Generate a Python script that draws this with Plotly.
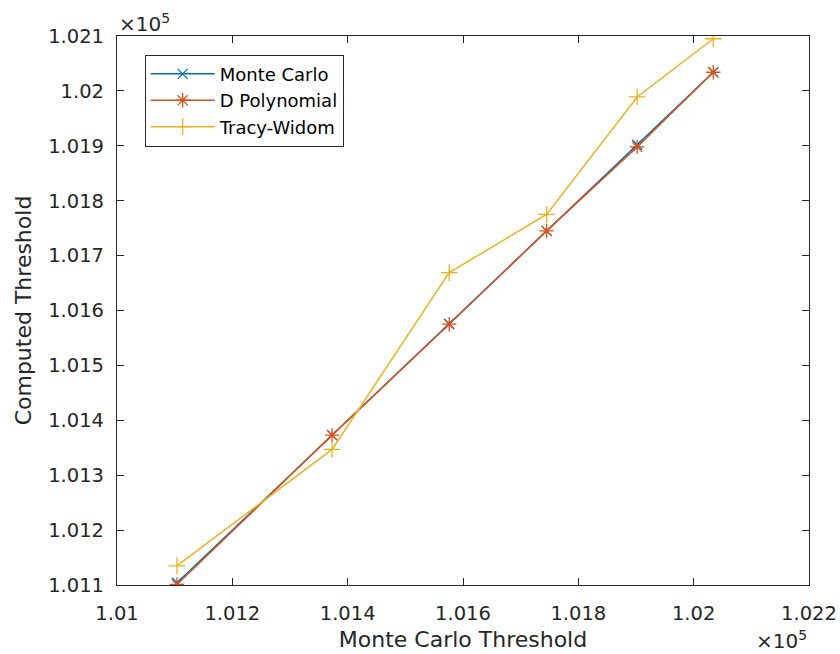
import plotly.graph_objects as go

# Thresholds (raw units); plotted in units of 1e5 with a shared exponent label
SCALE = 1e5
mc_threshold = [101104, 101373, 101576, 101745, 101902, 102034]
monte_carlo = [101104, 101373, 101576, 101745, 101902, 102034]
d_polynomial = [101101, 101373, 101575, 101745, 101898, 102034]
tracy_widom = [101135, 101347, 101669, 101775, 101989, 102095]

x_ticks = [1.010, 1.012, 1.014, 1.016, 1.018, 1.020, 1.022]
x_tick_text = ["1.01", "1.012", "1.014", "1.016", "1.018", "1.02", "1.022"]
y_ticks = [1.011, 1.012, 1.013, 1.014, 1.015, 1.016, 1.017, 1.018, 1.019, 1.020, 1.021]
y_tick_text = ["1.011", "1.012", "1.013", "1.014", "1.015", "1.016", "1.017",
               "1.018", "1.019", "1.02", "1.021"]

FONT = "DejaVu Sans"
INK = "#262626"

x_scaled = [v / SCALE for v in mc_threshold]

series = [
    ("Monte Carlo", monte_carlo, "#0072BD", "x-thin-open", 10),
    ("D Polynomial", d_polynomial, "#D95319", "asterisk-open", 12),
    ("Tracy-Widom", tracy_widom, "#EDB120", "cross-thin-open", 12),
]

fig = go.Figure()
for name, vals, color, symbol, msize in series:
    fig.add_trace(go.Scatter(
        x=x_scaled,
        y=[v / SCALE for v in vals],
        mode="lines+markers",
        name=name,
        line=dict(color=color, width=1.5),
        marker=dict(symbol=symbol, size=msize, color=color,
                    line=dict(color=color, width=1.3)),
    ))

axis_common = dict(
    showline=True, linecolor=INK, linewidth=1.2,
    mirror="ticks", ticks="inside", ticklen=7, tickwidth=1.2, tickcolor=INK,
    showgrid=False, zeroline=False,
    tickfont=dict(family=FONT, size=19.5, color=INK),
)

fig.update_xaxes(
    range=[1.010, 1.022], tickvals=x_ticks, ticktext=x_tick_text,
    ticklabelstandoff=10,
    title=dict(text="Monte Carlo Threshold", font=dict(family=FONT, size=22, color=INK),
               standoff=8),
    automargin=False,
    **axis_common,
)
fig.update_yaxes(
    range=[1.011, 1.021], tickvals=y_ticks, ticktext=y_tick_text,
    ticklabelstandoff=8,
    title=dict(text="Computed Threshold", font=dict(family=FONT, size=22, color=INK),
               standoff=10),
    automargin=False,
    **axis_common,
)

# Shared exponent labels for both axes
fig.add_annotation(xref="paper", yref="paper", x=0.0, y=1.0, xanchor="left", yanchor="bottom",
                   text="×10<sup>5</sup>", showarrow=False,
                   font=dict(family=FONT, size=20, color=INK), yshift=-2)
fig.add_annotation(xref="paper", yref="paper", x=1.0, y=0.0, xanchor="right", yanchor="top",
                   text="×10<sup>5</sup>", showarrow=False,
                   font=dict(family=FONT, size=20, color=INK), yshift=-40)

fig.update_layout(
    width=840, height=654,
    margin=dict(l=117, r=31, t=36, b=69),
    paper_bgcolor="white", plot_bgcolor="white",
    showlegend=True,
    legend=dict(
        x=0.04, y=0.966, xanchor="left", yanchor="top",
        bgcolor="white", bordercolor=INK, borderwidth=1,
        font=dict(family=FONT, size=18, color="#000000"),
        itemwidth=64, tracegroupgap=0,
    ),
)

fig.write_html("out.html")
